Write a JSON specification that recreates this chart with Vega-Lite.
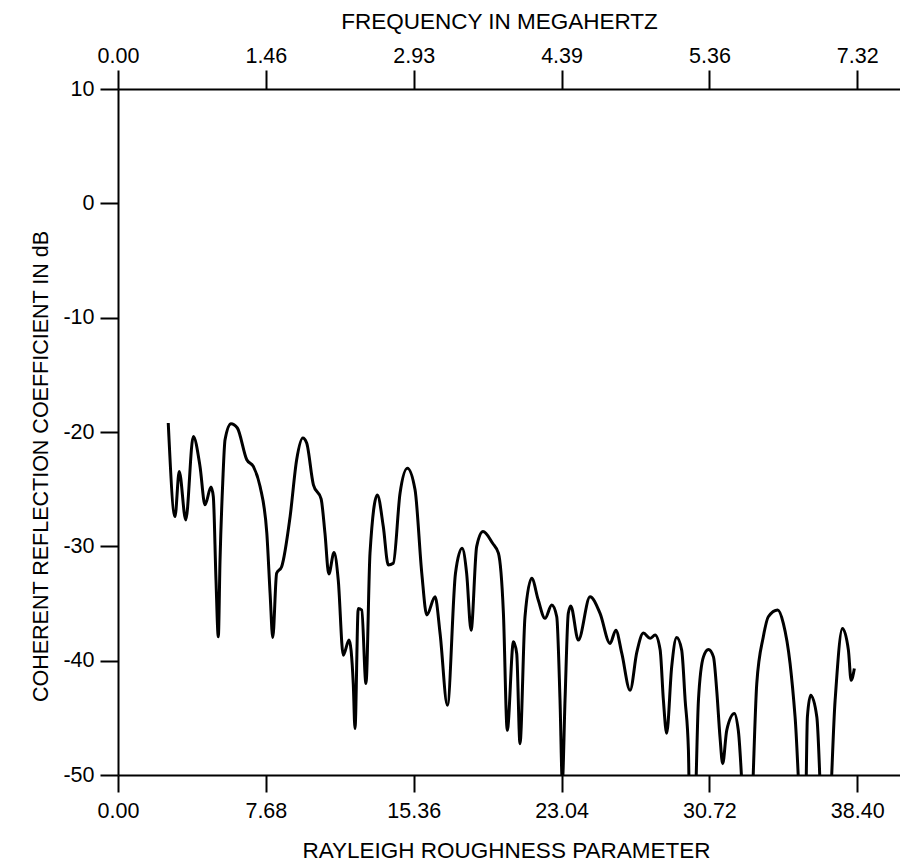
{
  "$schema": "https://vega.github.io/schema/vega-lite/v6.json",
  "width": 782,
  "height": 686,
  "autosize": {"type": "none"},
  "padding": {"left": 118, "top": 89, "right": 0, "bottom": 86},
  "background": "white",
  "config": {
    "view": {"stroke": null},
    "font": "Liberation Sans",
    "axis": {
      "domainColor": "black", "tickColor": "black", "labelColor": "black", "titleColor": "black",
      "domainWidth": 2, "tickWidth": 2, "grid": false,
      "labelFont": "Liberation Sans", "titleFont": "Liberation Sans",
      "titleFontWeight": "normal", "labelFontSize": 21.5, "titleFontSize": 22.5
    }
  },
  "data": {"values": [
    {"x": 2.61, "y": -19.21}, {"x": 2.96, "y": -27.40}, {"x": 3.18, "y": -23.45}, {"x": 3.52, "y": -27.69},
    {"x": 3.91, "y": -20.39}, {"x": 4.26, "y": -23.01}, {"x": 4.52, "y": -26.37}, {"x": 4.83, "y": -24.82},
    {"x": 4.95, "y": -25.64}, {"x": 5.09, "y": -32.94}, {"x": 5.21, "y": -37.91}, {"x": 5.30, "y": -31.19},
    {"x": 5.44, "y": -24.44}, {"x": 5.56, "y": -20.67}, {"x": 5.87, "y": -19.27}, {"x": 6.20, "y": -19.65},
    {"x": 6.69, "y": -22.43}, {"x": 7.03, "y": -23.01}, {"x": 7.38, "y": -24.77}, {"x": 7.73, "y": -28.85},
    {"x": 7.90, "y": -34.11}, {"x": 8.04, "y": -37.97}, {"x": 8.24, "y": -32.36}, {"x": 8.50, "y": -31.78},
    {"x": 8.94, "y": -27.40}, {"x": 9.28, "y": -22.43}, {"x": 9.60, "y": -20.53}, {"x": 9.80, "y": -20.96},
    {"x": 10.15, "y": -24.62}, {"x": 10.55, "y": -25.85}, {"x": 10.75, "y": -28.85}, {"x": 10.95, "y": -32.42},
    {"x": 11.22, "y": -30.55}, {"x": 11.44, "y": -32.94}, {"x": 11.70, "y": -39.52}, {"x": 12.00, "y": -38.20},
    {"x": 12.22, "y": -42.00}, {"x": 12.31, "y": -45.94}, {"x": 12.48, "y": -35.43}, {"x": 12.66, "y": -35.57},
    {"x": 12.88, "y": -42.00}, {"x": 13.09, "y": -30.60}, {"x": 13.47, "y": -25.50}, {"x": 13.78, "y": -28.27},
    {"x": 14.04, "y": -31.63}, {"x": 14.30, "y": -31.48}, {"x": 14.65, "y": -25.35}, {"x": 15.03, "y": -23.16},
    {"x": 15.43, "y": -25.06}, {"x": 15.78, "y": -32.36}, {"x": 16.04, "y": -36.01}, {"x": 16.47, "y": -34.41},
    {"x": 16.73, "y": -37.62}, {"x": 17.11, "y": -43.90}, {"x": 17.53, "y": -32.36}, {"x": 17.87, "y": -30.17},
    {"x": 18.11, "y": -32.36}, {"x": 18.34, "y": -37.33}, {"x": 18.63, "y": -30.03}, {"x": 18.96, "y": -28.71},
    {"x": 19.46, "y": -29.73}, {"x": 19.76, "y": -30.60}, {"x": 20.02, "y": -35.86}, {"x": 20.22, "y": -46.09},
    {"x": 20.54, "y": -38.35}, {"x": 20.71, "y": -39.37}, {"x": 20.88, "y": -47.26}, {"x": 21.14, "y": -36.16},
    {"x": 21.49, "y": -32.80}, {"x": 21.83, "y": -34.70}, {"x": 22.18, "y": -36.30}, {"x": 22.53, "y": -35.14},
    {"x": 22.79, "y": -36.16}, {"x": 22.96, "y": -43.46}, {"x": 23.08, "y": -50.60}, {"x": 23.22, "y": -43.46},
    {"x": 23.39, "y": -35.86}, {"x": 23.52, "y": -35.22}, {"x": 23.91, "y": -38.20}, {"x": 24.52, "y": -34.41},
    {"x": 25.04, "y": -35.86}, {"x": 25.56, "y": -38.49}, {"x": 25.86, "y": -37.33}, {"x": 26.17, "y": -39.37},
    {"x": 26.60, "y": -42.59}, {"x": 26.95, "y": -39.26}, {"x": 27.29, "y": -37.59}, {"x": 27.64, "y": -38.05},
    {"x": 27.90, "y": -37.76}, {"x": 28.16, "y": -39.04}, {"x": 28.33, "y": -43.46}, {"x": 28.50, "y": -46.35},
    {"x": 28.76, "y": -40.54}, {"x": 29.02, "y": -37.97}, {"x": 29.28, "y": -39.08}, {"x": 29.46, "y": -43.46},
    {"x": 29.63, "y": -47.84}, {"x": 29.71, "y": -55}, {"x": 29.92, "y": -55}, {"x": 30.15, "y": -43.46},
    {"x": 30.41, "y": -39.67}, {"x": 30.67, "y": -39.02}, {"x": 30.93, "y": -39.67}, {"x": 31.10, "y": -42.59},
    {"x": 31.27, "y": -46.68}, {"x": 31.41, "y": -49.01}, {"x": 31.62, "y": -46.09}, {"x": 32.02, "y": -44.63},
    {"x": 32.22, "y": -46.09}, {"x": 32.62, "y": -55}, {"x": 32.83, "y": -55}, {"x": 33.18, "y": -42.00},
    {"x": 33.52, "y": -37.91}, {"x": 33.78, "y": -36.16}, {"x": 34.27, "y": -35.57}, {"x": 34.56, "y": -36.74},
    {"x": 34.91, "y": -40.25}, {"x": 35.17, "y": -44.92}, {"x": 35.55, "y": -55}, {"x": 35.69, "y": -55},
    {"x": 35.81, "y": -44.92}, {"x": 35.98, "y": -43.02}, {"x": 36.30, "y": -44.92}, {"x": 36.62, "y": -55},
    {"x": 36.88, "y": -55}, {"x": 37.25, "y": -43.46}, {"x": 37.63, "y": -37.18}, {"x": 37.94, "y": -39.08},
    {"x": 38.08, "y": -41.71}, {"x": 38.25, "y": -40.68}
  ]},
  "encoding": {
    "y": {
      "field": "y", "type": "quantitative",
      "scale": {"domain": [-50, 10], "nice": false, "zero": false},
      "axis": {
        "values": [10, 0, -10, -20, -30, -40, -50],
        "labelExpr": "toString(datum.value)",
        "tickSize": 18, "labelPadding": 6,
        "title": "COHERENT REFLECTION COEFFICIENT IN dB",
        "titleFontSize": 21.5,
        "titleX": -71, "titleY": 377, "titleBaseline": "alphabetic", "titleAlign": "center"
      }
    }
  },
  "layer": [
    {
      "mark": {"type": "line", "color": "black", "strokeWidth": 3, "clip": true, "interpolate": "monotone"},
      "encoding": {
        "x": {
          "field": "x", "type": "quantitative",
          "scale": {"domain": [0, 40.62], "nice": false, "zero": false},
          "axis": {
            "orient": "bottom",
            "values": [0, 7.68, 15.36, 23.04, 30.72, 38.4],
            "format": ".2f",
            "tickSize": 17, "labelPadding": 25, "labelBaseline": "alphabetic", "labelFlush": false,
            "title": "RAYLEIGH ROUGHNESS PARAMETER",
            "titleX": 388, "titleY": 82, "titleBaseline": "alphabetic", "titleAlign": "center"
          }
        }
      }
    },
    {
      "mark": {"type": "line", "strokeOpacity": 0, "clip": true},
      "encoding": {
        "x": {
          "field": "x", "type": "quantitative",
          "axis": {
            "orient": "top",
            "values": [0, 7.68, 15.36, 23.04, 30.72, 38.4],
            "labelExpr": "['0.00','1.46','2.93','4.39','5.36','7.32'][round(datum.value/7.68)]",
            "tickSize": 19, "labelPadding": 8, "labelBaseline": "alphabetic", "labelFlush": false,
            "title": "FREQUENCY IN MEGAHERTZ",
            "titleX": 381, "titleY": -61, "titleBaseline": "alphabetic", "titleAlign": "center"
          }
        }
      }
    }
  ],
  "resolve": {"axis": {"x": "independent"}}
}
